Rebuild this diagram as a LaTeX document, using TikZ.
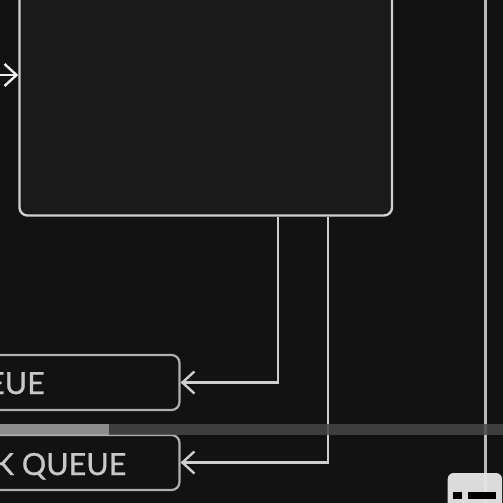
\documentclass[tikz,border=0pt]{standalone}
\usepackage{fontspec}
\setmainfont{Lato}
\newfontfamily\qfont{Lato}[FakeBold=0.7]
\usetikzlibrary{arrows.meta}
\definecolor{bgc}{HTML}{121212}
\definecolor{boxc}{HTML}{1A1A1A}
\definecolor{linec}{HTML}{CFCFCF}
\definecolor{txtc}{HTML}{C8C8C8}
\tikzset{
  bigbox/.style={draw=linec, line width=2.4pt, fill=boxc, rounded corners=8pt, inner sep=0pt},
  qbox/.style={draw=linec!85!black, line width=2.2pt, fill=bgc, rounded corners=8pt, inner sep=0pt},
  conn/.style={draw=linec, line width=2.4pt, -{Straight Barb[length=12pt,width=22pt]}},
  qtext/.style={text=txtc, font=\qfont\fontsize{30.5}{32}\selectfont, inner sep=0pt, anchor=base east},
}
\begin{document}
\begin{tikzpicture}[x=1pt,y=-1pt]
\useasboundingbox (0,0) rectangle (503,503);
\clip (0,0) rectangle (503,503);
\fill[bgc] (0,0) rectangle (503,503);
% vertical line at right
\coordinate (vt) at (485,-5);
\coordinate (vb) at (485,510);
\draw[line width=3pt, draw=linec!90!black] (vt) -- (vb);
% main box
\node[bigbox, minimum width=372.5pt, minimum height=235.5pt] (proc) at (205.75,97.75) {};
% queue boxes
\node[qbox, minimum width=279.5pt, minimum height=55pt] (q1) at (39.75,382.5) {};
\node[qbox, minimum width=279.5pt, minimum height=55pt] (q2) at (39.75,462.5) {};
\node[qtext] (t1) at (45,394) {EUE};
\node[qtext] (t2) at (126.5,475) {K QUEUE};
% connectors
\coordinate (in) at (-5,75);
\coordinate (s1) at (278,0);
\coordinate (s2) at (328,0);
\draw[conn, draw=white!94!black] (in) -- (proc.west |- in);
\draw[conn] (proc.south -| s1) |- (q1.east);
\draw[conn] (proc.south -| s2) |- (q2.east);
% progress bar
\fill[color={rgb,255:red,154;green,154;blue,154}, opacity=0.9] (0,424) rectangle (109,435);
\fill[color={rgb,255:red,70;green,70;blue,70}, opacity=0.85] (109,424) rectangle (503,435);
% caption icon
\fill[color={rgb,255:red,230;green,230;blue,230}, rounded corners=6pt, opacity=0.95] (447.7,473) rectangle (502,515);
\fill[black] (453,491.5) rectangle (462,498.5);
\fill[black] (468,491.5) rectangle (496,498.5);
\end{tikzpicture}
\end{document}
